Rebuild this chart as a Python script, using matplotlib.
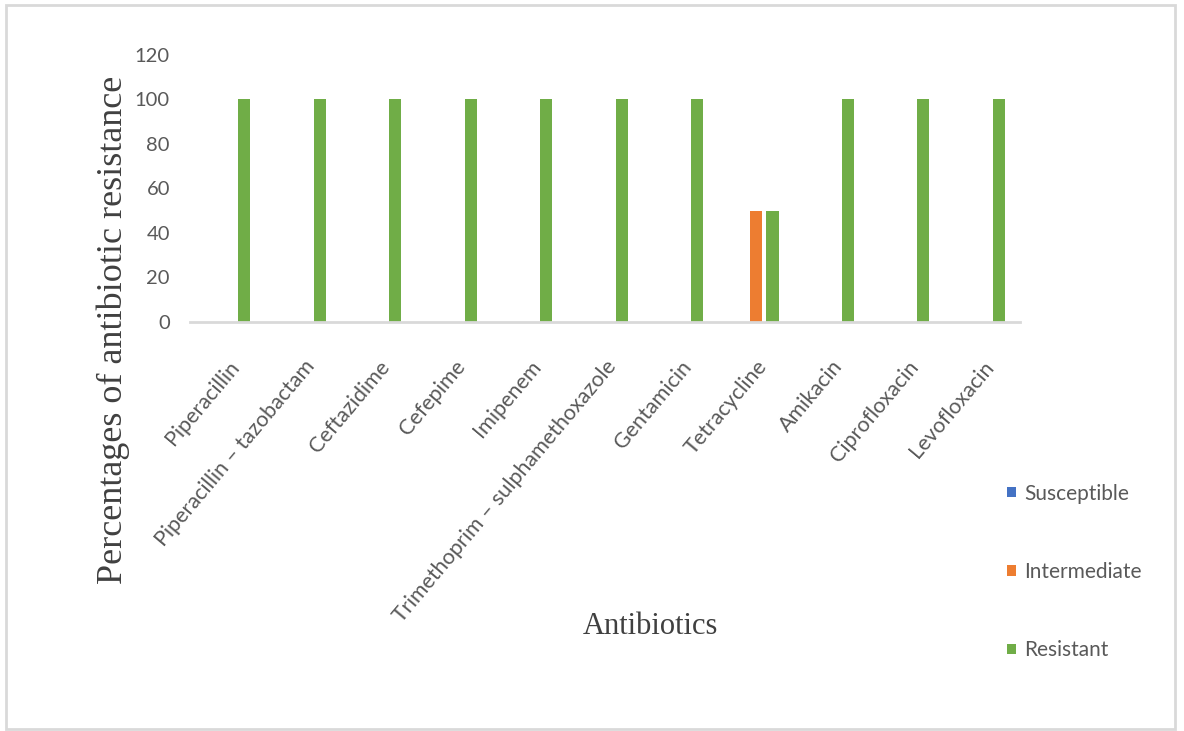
import matplotlib
matplotlib.use("Agg")
import matplotlib.pyplot as plt
from matplotlib.patches import Rectangle
import numpy as np

antibiotics = [
    "Piperacillin",
    "Piperacillin \u2013 tazobactam",
    "Ceftazidime",
    "Cefepime",
    "Imipenem",
    "Trimethoprim \u2013 sulphamethoxazole",
    "Gentamicin",
    "Tetracycline",
    "Amikacin",
    "Ciprofloxacin",
    "Levofloxacin",
]
susceptible = [0, 0, 0, 0, 0, 0, 0, 0, 0, 0, 0]
intermediate = [0, 0, 0, 0, 0, 0, 0, 50, 0, 0, 0]
resistant = [100, 100, 100, 100, 100, 100, 100, 50, 100, 100, 100]
y_ticks = [0, 20, 40, 60, 80, 100, 120]

series = [
    ("Susceptible", susceptible, "#4472C4"),
    ("Intermediate", intermediate, "#ED7D31"),
    ("Resistant", resistant, "#70AD47"),
]

fig = plt.figure(figsize=(11.84, 7.31), dpi=100)
ax = fig.add_axes([0.1605, 0.5595, 0.701, 0.3653])

x = np.arange(len(antibiotics))
bar_w = 0.16
offsets = [-0.22, 0.0, 0.22]
handles = []
for (name, vals, color), off in zip(series, offsets):
    h = ax.bar(x + off, vals, width=bar_w, color=color, label=name, linewidth=0)
    handles.append(h)

ax.set_xlim(-0.5, len(antibiotics) - 0.5)
ax.set_ylim(0, 120)
ax.set_yticks(y_ticks)
ax.set_yticklabels([str(v) for v in y_ticks], fontfamily="Lato", fontsize=14.5, color="#595959")
ax.set_xticks(x)
ax.set_xticklabels(antibiotics, rotation=50, ha="right", va="top", rotation_mode="anchor",
                   fontfamily="Lato", fontsize=15.5, color="#595959")
ax.tick_params(axis="both", length=0)
ax.tick_params(axis="y", pad=14.5)
ax.tick_params(axis="x", pad=25)

for s in ["top", "right", "left"]:
    ax.spines[s].set_visible(False)
ax.spines["bottom"].set_color("#d9d9d9")
ax.spines["bottom"].set_linewidth(2)

ax.set_ylabel("Percentages of antibiotic resistance", fontfamily="Liberation Serif",
              fontsize=26, color="#404040")
ax.yaxis.set_label_coords(-0.072, -0.03)
ax.set_xlabel("Antibiotics", fontfamily="Liberation Serif", fontsize=22, color="#404040")
ax.xaxis.set_label_coords(0.555, -1.085)

leg = fig.legend(handles=handles, loc="upper left", bbox_to_anchor=(0.835, 0.364),
                 frameon=False, prop={"family": "Lato", "size": 15},
                 handlelength=0.4, handleheight=0.4, handletextpad=0.4,
                 labelspacing=2.8, labelcolor="#595959")

fig.patches.append(Rectangle((6 / 1184, 1 - 729 / 731), 1169 / 1184, 724 / 731,
                             transform=fig.transFigure, fill=False,
                             edgecolor="#d9d9d9", linewidth=2))

fig.savefig("out.png", dpi=100)
